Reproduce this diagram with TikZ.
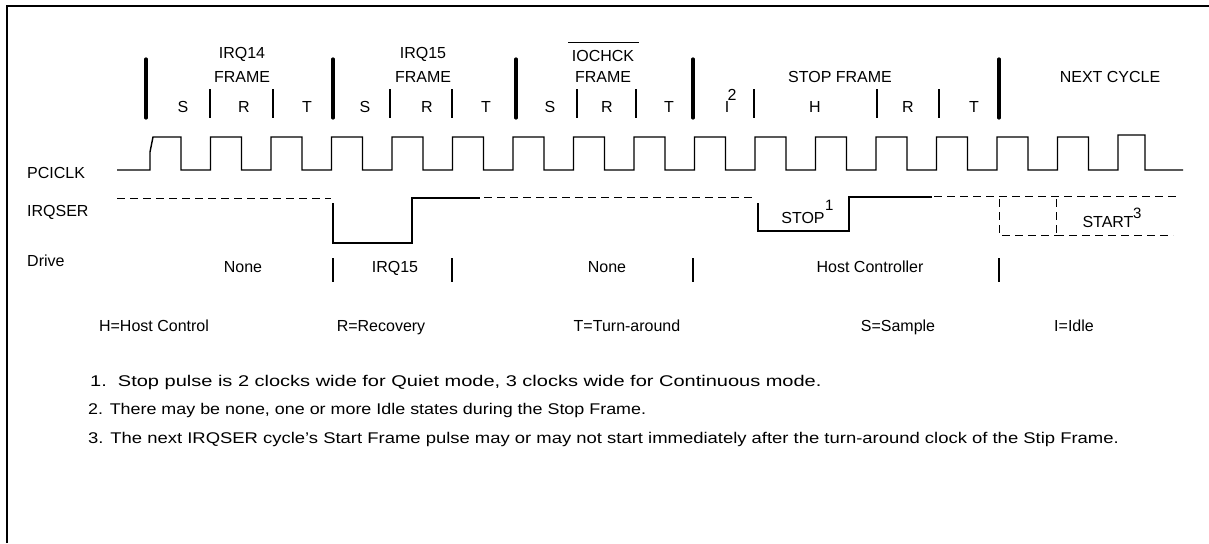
\documentclass[tikz,border=0pt]{standalone}
\usepackage{fontspec}
\setmainfont{Liberation Sans}
\begin{document}
\begin{tikzpicture}[x=1pt,y=-1pt,
  lbl/.style={anchor=base,inner sep=0pt,font=\fontsize{16}{19}\selectfont},
  sup/.style={anchor=base west,inner sep=0pt,font=\fontsize{15}{18}\selectfont},
  lft/.style={anchor=base west,inner sep=0pt,font=\fontsize{16}{19}\selectfont},
  note/.style={anchor=base west,inner sep=0pt,font=\fontsize{15.5}{18}\selectfont},
  thickbar/.style={line width=3.2pt,line cap=round},
  thinbar/.style={line width=1.4pt},
  sig/.style={line width=1.4pt},
  dsig/.style={line width=0.8pt,dash pattern=on 8pt off 5pt}]
\useasboundingbox (0,0) rectangle (1209,543);
% frame
\draw[line width=2pt] (7,543) -- (7,6) -- (1209,6);
% frame markers
\foreach \x in {146,333,516,693,999} \draw[thickbar] (\x,59) -- (\x,118);
\foreach \x in {210,273,390,452,577,636,754,877,939} \draw[thinbar] (\x,89) -- (\x,118);
% frame titles
\node[lbl] (t14a) at (242,59) {IRQ14};
\node[lbl] (t14b) at (242,82) {FRAME};
\node[lbl] (t15a) at (423,59) {IRQ15};
\node[lbl] (t15b) at (423,82) {FRAME};
\node[lbl] (tioa) at (603,62) {IOCHCK};
\draw[line width=0.8pt] (568,42) -- (639,42);
\node[lbl] (tiob) at (603,82) {FRAME};
\node[lbl] (tstop) at (840,82) {STOP FRAME};
\node[lbl] (tnext) at (1110,82) {NEXT CYCLE};
% state letters
\node[lbl] (s1) at (183,112) {S};
\node[lbl] (r1) at (244,112) {R};
\node[lbl] (u1) at (307,112) {T};
\node[lbl] (s2) at (365,112) {S};
\node[lbl] (r2) at (427,112) {R};
\node[lbl] (u2) at (486,112) {T};
\node[lbl] (s3) at (550,112) {S};
\node[lbl] (r3) at (607,112) {R};
\node[lbl] (u3) at (669,112) {T};
\node[lbl] (i4) at (727,112) {I};
\node[lbl] (i4s) at (732,100) {2};
\node[lbl] (h4) at (815,112) {H};
\node[lbl] (r4) at (908,112) {R};
\node[lbl] (u4) at (974,112) {T};
% signal names
\node[lft] (nclk) at (27,178) {PCICLK};
\node[lft] (nser) at (27,216) {IRQSER};
\node[lft] (ndrv) at (27,266) {Drive};
% clock
\draw[sig] (117,170) -- (150,170) -- (150,152) -- (153,137) -- (181,137) -- (181,170)
  \foreach \k in {1,...,15} { -- ({150+60.5*\k},170) -- ({150+60.5*\k},137) -- ({181+60.5*\k},137) -- ({181+60.5*\k},170) }
  -- (1118,170) -- (1118,135) -- (1145,135) -- (1145,170) -- (1183,170);
% IRQSER
\draw[dsig] (117,198) -- (331,198);
\draw[sig] (333,203) -- (333,243) -- (412,243) -- (412,198) -- (480,198);
\draw[dsig] (484,197) -- (756,197);
\draw[sig] (758,203) -- (758,231) -- (849,231) -- (849,197) -- (932,197);
\draw[dsig] (934,196) -- (1177,196);
\draw[dsig] (999,199) -- (999,235) -- (1056,235);
\draw[dsig] (1056,199) -- (1056,237);
\draw[dsig] (1056,235) -- (1173,235);
\node[lbl] (stop) at (803,223) {STOP};
\node[sup] (stops) at (825,210) {1};
\node[lbl] (start) at (1108,227) {START};
\node[sup] (starts) at (1133,218) {3};
% Drive
\foreach \x in {333,452,693,999} \draw[thinbar] (\x,258) -- (\x,282);
\node[lbl] (d1) at (243,272) {None};
\node[lbl] (d2) at (395,272) {IRQ15};
\node[lbl] (d3) at (607,272) {None};
\node[lbl] (d4) at (870,272) {Host Controller};
% legend
\node[lbl] (lh) at (154,331) {H=Host Control};
\node[lbl] (lr) at (381,331) {R=Recovery};
\node[lbl] (lt) at (627,331) {T=Turn-around};
\node[lbl] (ls) at (898,331) {S=Sample};
\node[lbl] (li) at (1074,331) {I=Idle};
% notes
\node[note] (n1) at (90,386) {\scalebox{1.29}[1]{1.\ \ Stop pulse is 2 clocks wide for Quiet mode, 3 clocks wide for Continuous mode.}};
\node[note] (n2) at (88,414) {\scalebox{1.155}[1]{2. There may be none, one or more Idle states during the Stop Frame.}};
\node[note] (n3) at (88,443) {\scalebox{1.19}[1]{3. The next IRQSER cycle's Start Frame pulse may or may not start immediately after the turn-around clock of the Stip Frame.}};
\end{tikzpicture}
\end{document}
